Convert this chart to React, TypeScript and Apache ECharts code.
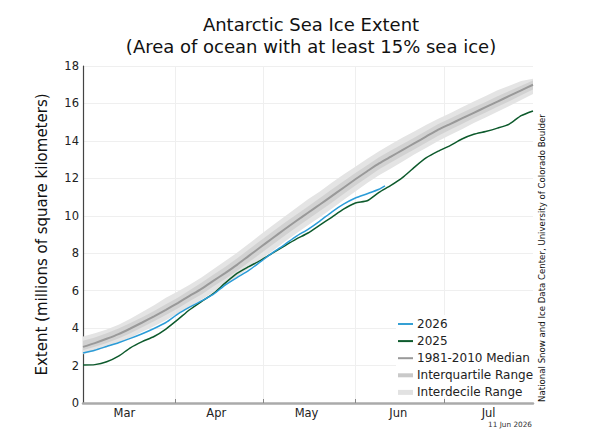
import React, { useEffect, useRef } from "react";
import * as echarts from "echarts";

// Day index counted from 1 March (0 = 1 Mar, 152 = 31 Jul)
const DAYS = [0, 4, 8, 12, 16, 20, 24, 28, 32, 36, 40, 44, 48, 52, 56, 60, 64, 68, 72, 76, 80, 84, 88, 92, 96, 100, 104, 108, 112, 116, 120, 124, 128, 132, 136, 140, 144, 148, 152];

const MEDIAN = [3.0, 3.2, 3.43, 3.68, 3.98, 4.3, 4.63, 4.98, 5.34, 5.72, 6.1, 6.52, 6.94, 7.38, 7.86, 8.33, 8.8, 9.27, 9.72, 10.16, 10.6, 11.05, 11.5, 11.95, 12.38, 12.8, 13.16, 13.52, 13.88, 14.24, 14.6, 14.9, 15.2, 15.5, 15.8, 16.1, 16.4, 16.7, 17.0];
const IQR_LO = [2.82, 3.0, 3.2, 3.44, 3.72, 4.04, 4.36, 4.7, 5.05, 5.44, 5.8, 6.22, 6.62, 7.05, 7.52, 7.98, 8.45, 8.92, 9.38, 9.82, 10.26, 10.7, 11.16, 11.62, 12.05, 12.48, 12.85, 13.2, 13.56, 13.92, 14.28, 14.6, 14.9, 15.22, 15.52, 15.82, 16.12, 16.44, 16.75];
const IQR_HI = [3.32, 3.5, 3.72, 3.98, 4.27, 4.58, 4.92, 5.28, 5.62, 6.02, 6.42, 6.85, 7.26, 7.72, 8.2, 8.68, 9.15, 9.62, 10.06, 10.5, 10.95, 11.4, 11.85, 12.28, 12.7, 13.12, 13.48, 13.84, 14.18, 14.54, 14.9, 15.2, 15.5, 15.8, 16.08, 16.38, 16.66, 16.95, 17.22];
const IDR_LO = [2.6, 2.78, 2.98, 3.2, 3.48, 3.8, 4.1, 4.42, 4.78, 5.15, 5.52, 5.92, 6.3, 6.75, 7.2, 7.66, 8.12, 8.6, 9.05, 9.5, 9.92, 10.38, 10.84, 11.3, 11.75, 12.16, 12.52, 12.9, 13.28, 13.64, 14.0, 14.32, 14.62, 14.95, 15.25, 15.55, 15.86, 16.18, 16.5];
const IDR_HI = [3.55, 3.72, 3.93, 4.18, 4.5, 4.86, 5.22, 5.62, 5.95, 6.32, 6.7, 7.14, 7.58, 8.02, 8.5, 9.0, 9.48, 9.95, 10.42, 10.88, 11.3, 11.76, 12.2, 12.62, 13.05, 13.45, 13.82, 14.18, 14.52, 14.86, 15.18, 15.48, 15.8, 16.1, 16.4, 16.7, 16.95, 17.2, 17.32];

const Y2025 = [2.03, 2.05, 2.2, 2.5, 2.95, 3.28, 3.55, 3.95, 4.45, 4.98, 5.42, 5.84, 6.4, 6.92, 7.28, 7.62, 8.0, 8.38, 8.75, 9.08, 9.5, 9.92, 10.35, 10.68, 10.8, 11.25, 11.62, 12.05, 12.6, 13.1, 13.45, 13.75, 14.1, 14.35, 14.5, 14.68, 14.9, 15.35, 15.6];

const DAYS_2026 = [0, 4, 8, 12, 16, 20, 24, 28, 32, 36, 40, 44, 48, 52, 56, 60, 64, 68, 72, 76, 80, 84, 88, 92, 96, 100, 102];
const Y2026 = [2.67, 2.82, 3.02, 3.22, 3.45, 3.7, 3.98, 4.3, 4.75, 5.12, 5.45, 5.8, 6.3, 6.7, 7.08, 7.55, 8.02, 8.45, 8.9, 9.28, 9.72, 10.2, 10.62, 10.95, 11.18, 11.42, 11.6];

const MONTH_BOUNDS = [31, 61, 92, 122];
const MONTH_MIDS = [14, 45, 75.5, 106.5, 137];
const MONTH_NAMES = ["Mar", "Apr", "May", "Jun", "Jul"];
const Y_TICKS_MAX = 18;

const LEGEND_NAMES = ["2026", "2025", "1981-2010 Median", "Interquartile Range", "Interdecile Range"];
const LEGEND_COLORS = ["#35a0d4", "#0d5a2c", "#999999", "#c9c9c9", "#e2e2e2"];
const LEGEND_WIDTHS = [2, 2, 2, 4, 5];

const FONT = "DejaVu Sans";

function bandSeries(name: string, lo: number[], hi: number[], color: string) {
  return {
    name,
    type: "custom",
    coordinateSystem: "cartesian2d",
    silent: true,
    clip: true,
    data: [[DAYS[0], lo[0]]],
    renderItem: (_params: any, api: any) => {
      const upper = DAYS.map((d, i) => api.coord([d, hi[i]]));
      const lower = DAYS.map((d, i) => api.coord([d, lo[i]])).reverse();
      return {
        type: "polygon",
        shape: { points: upper.concat(lower) },
        style: { fill: color, stroke: "none" },
      };
    },
  };
}

export default function App() {
  const ref = useRef<HTMLDivElement>(null);

  useEffect(() => {
    if (!ref.current) return;
    const chart = echarts.init(ref.current, undefined, { renderer: "svg" });

    const pairs = (xs: number[], ys: number[]) => xs.map((x, i) => [x, ys[i]]);

    const legendGraphics: any[] = [
      {
        type: "rect",
        shape: { x: 396, y: 315, width: 137, height: 82 },
        style: { fill: "#ffffff", stroke: "none" },
        z: 10,
        silent: true,
      },
    ];
    LEGEND_NAMES.forEach((name, i) => {
      const y = 324 + i * 17.1;
      legendGraphics.push({
        type: "line",
        shape: { x1: 398, y1: y, x2: 413, y2: y },
        style: { stroke: LEGEND_COLORS[i], lineWidth: LEGEND_WIDTHS[i] },
        z: 11,
        silent: true,
      });
      legendGraphics.push({
        type: "text",
        x: 417,
        y: y,
        style: {
          text: name,
          font: `12px "${FONT}"`,
          fill: "#222",
          verticalAlign: "middle",
          align: "left",
        },
        z: 11,
        silent: true,
      });
    });

    const option: any = {
      animation: false,
      textStyle: { fontFamily: FONT },
      title: {
        text: "Antarctic Sea Ice Extent\n(Area of ocean with at least 15% sea ice)",
        left: 306,
        top: 8,
        textAlign: "center",
        textStyle: {
          fontFamily: FONT,
          fontSize: 18,
          fontWeight: "normal",
          color: "#111",
          lineHeight: 22.5,
        },
      },
      grid: { left: 83, right: 58, top: 66, bottom: 41, containLabel: false },
      xAxis: {
        type: "value",
        min: 0,
        max: 152,
        axisLine: { show: true, lineStyle: { color: "#aaaaaa", width: 2.5 } },
        axisTick: {
          show: true,
          inside: true,
          length: 4,
          customValues: MONTH_BOUNDS,
          lineStyle: { color: "#888", width: 1 },
        },
        axisLabel: {
          customValues: MONTH_MIDS,
          margin: 4,
          fontSize: 11.5,
          color: "#222",
          fontFamily: FONT,
          formatter: (v: number) => {
            let best = 0;
            MONTH_MIDS.forEach((m, i) => {
              if (Math.abs(m - v) < Math.abs(MONTH_MIDS[best] - v)) best = i;
            });
            return MONTH_NAMES[best];
          },
        },
        splitLine: { show: true, lineStyle: { color: "#efefef", width: 1 } },
      },
      yAxis: {
        type: "value",
        min: 0,
        max: Y_TICKS_MAX,
        interval: 2,
        name: "Extent (millions of square kilometers)",
        nameLocation: "middle",
        nameRotate: 90,
        nameGap: 34,
        nameTextStyle: { fontSize: 15, color: "#111", fontFamily: FONT },
        axisLine: { show: true, lineStyle: { color: "#444", width: 1.2 } },
        axisTick: { show: false },
        axisLabel: { margin: 4, fontSize: 11.5, color: "#222", fontFamily: FONT },
        splitLine: { show: true, lineStyle: { color: "#efefef", width: 1 } },
      },
      series: [
        bandSeries("Interdecile Range", IDR_LO, IDR_HI, "#e4e4e4"),
        bandSeries("Interquartile Range", IQR_LO, IQR_HI, "#d2d2d2"),
        {
          name: "1981-2010 Median",
          type: "line",
          data: pairs(DAYS, MEDIAN),
          symbol: "none",
          lineStyle: { color: "#999999", width: 2 },
          silent: true,
          smooth: 0.2,
        },
        {
          name: "2025",
          type: "line",
          data: pairs(DAYS, Y2025),
          symbol: "none",
          lineStyle: { color: "#0d5a2c", width: 1.5 },
          silent: true,
          smooth: 0.2,
        },
        {
          name: "2026",
          type: "line",
          data: pairs(DAYS_2026, Y2026),
          symbol: "none",
          lineStyle: { color: "#2b9cd8", width: 1.5 },
          silent: true,
          smooth: 0.2,
        },
      ],
      graphic: [
        ...legendGraphics,
        {
          type: "text",
          x: 542,
          y: 258,
          rotation: Math.PI / 2,
          style: {
            text: "National Snow and Ice Data Center, University of Colorado Boulder",
            font: `8.6px "${FONT}"`,
            fill: "#111",
            align: "center",
            verticalAlign: "middle",
          },
          silent: true,
        },
        {
          type: "text",
          x: 532,
          y: 424,
          style: {
            text: "11 Jun 2026",
            font: `7.3px "${FONT}"`,
            fill: "#333",
            align: "right",
            verticalAlign: "middle",
          },
          silent: true,
        },
      ],
    };

    chart.setOption(option);
    return () => {
      chart.dispose();
    };
  }, []);

  return (
    <div
      ref={ref}
      style={{ position: "absolute", left: 0, top: 0, width: 591, height: 444, background: "#fff" }}
    />
  );
}
